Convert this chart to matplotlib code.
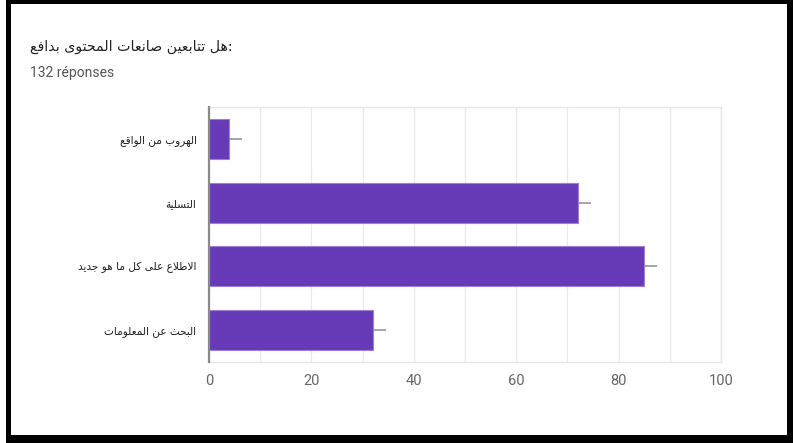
import matplotlib
matplotlib.use("Agg")
import matplotlib.pyplot as plt
from matplotlib.patches import Rectangle

# ---- data -------------------------------------------------------------
title = "هل تتابعين صانعات المحتوى بدافع:"
subtitle = "132 réponses"
categories = [
    "الهروب من الواقع",
    "التسلية",
    "الاطلاع على كل ما هو جديد",
    "البحث عن المعلومات",
]
counts = [4, 72, 85, 32]
err_plus = [2.4, 2.6, 2.5, 2.6]
x_ticks = [0, 20, 40, 60, 80, 100]

# ---- minimal Arabic shaping (presentation forms) + visual reordering ---
# letter: (isolated, final, initial, medial); None for right-joining letters
FORMS = {
    "\u0621": (0xFE80, None, None, None),
    "\u0622": (0xFE81, 0xFE82, None, None),
    "\u0623": (0xFE83, 0xFE84, None, None),
    "\u0625": (0xFE87, 0xFE88, None, None),
    "\u0627": (0xFE8D, 0xFE8E, None, None),
    "\u0628": (0xFE8F, 0xFE90, 0xFE91, 0xFE92),
    "\u0629": (0xFE93, 0xFE94, None, None),
    "\u062A": (0xFE95, 0xFE96, 0xFE97, 0xFE98),
    "\u062B": (0xFE99, 0xFE9A, 0xFE9B, 0xFE9C),
    "\u062C": (0xFE9D, 0xFE9E, 0xFE9F, 0xFEA0),
    "\u062D": (0xFEA1, 0xFEA2, 0xFEA3, 0xFEA4),
    "\u062E": (0xFEA5, 0xFEA6, 0xFEA7, 0xFEA8),
    "\u062F": (0xFEA9, 0xFEAA, None, None),
    "\u0630": (0xFEAB, 0xFEAC, None, None),
    "\u0631": (0xFEAD, 0xFEAE, None, None),
    "\u0632": (0xFEAF, 0xFEB0, None, None),
    "\u0633": (0xFEB1, 0xFEB2, 0xFEB3, 0xFEB4),
    "\u0634": (0xFEB5, 0xFEB6, 0xFEB7, 0xFEB8),
    "\u0635": (0xFEB9, 0xFEBA, 0xFEBB, 0xFEBC),
    "\u0636": (0xFEBD, 0xFEBE, 0xFEBF, 0xFEC0),
    "\u0637": (0xFEC1, 0xFEC2, 0xFEC3, 0xFEC4),
    "\u0638": (0xFEC5, 0xFEC6, 0xFEC7, 0xFEC8),
    "\u0639": (0xFEC9, 0xFECA, 0xFECB, 0xFECC),
    "\u063A": (0xFECD, 0xFECE, 0xFECF, 0xFED0),
    "\u0641": (0xFED1, 0xFED2, 0xFED3, 0xFED4),
    "\u0642": (0xFED5, 0xFED6, 0xFED7, 0xFED8),
    "\u0643": (0xFED9, 0xFEDA, 0xFEDB, 0xFEDC),
    "\u0644": (0xFEDD, 0xFEDE, 0xFEDF, 0xFEE0),
    "\u0645": (0xFEE1, 0xFEE2, 0xFEE3, 0xFEE4),
    "\u0646": (0xFEE5, 0xFEE6, 0xFEE7, 0xFEE8),
    "\u0647": (0xFEE9, 0xFEEA, 0xFEEB, 0xFEEC),
    "\u0648": (0xFEED, 0xFEEE, None, None),
    "\u0649": (0xFEEF, 0xFEF0, None, None),
    "\u064A": (0xFEF1, 0xFEF2, 0xFEF3, 0xFEF4),
}
LAM_ALEF = {"\u0627": (0xFEFB, 0xFEFC), "\u0623": (0xFEF7, 0xFEF8),
            "\u0625": (0xFEF9, 0xFEFA), "\u0622": (0xFEF5, 0xFEF6)}


def joins_forward(ch):
    f = FORMS.get(ch)
    return f is not None and f[2] is not None


def shape_arabic(text):
    out = []
    i = 0
    n = len(text)
    while i < n:
        ch = text[i]
        if ch not in FORMS:
            out.append(ch)
            i += 1
            continue
        prev = text[i - 1] if i > 0 else ""
        joined_prev = joins_forward(prev)
        # lam-alef ligature
        if ch == "\u0644" and i + 1 < n and text[i + 1] in LAM_ALEF:
            iso, fin = LAM_ALEF[text[i + 1]]
            out.append(chr(fin if joined_prev else iso))
            i += 2
            continue
        nxt = text[i + 1] if i + 1 < n else ""
        iso, fin, ini, med = FORMS[ch]
        joined_next = ini is not None and nxt in FORMS
        if joined_prev and joined_next:
            code = med
        elif joined_prev:
            code = fin
        elif joined_next:
            code = ini
        else:
            code = iso
        out.append(chr(code))
        i += 1
    return "".join(out)


def visual(text):
    # trailing punctuation stays on the right in a left-to-right paragraph
    tail = ""
    while text and text[-1] in ":.":
        tail = text[-1] + tail
        text = text[:-1]
    return shape_arabic(text)[::-1] + tail


# ---- figure -----------------------------------------------------------
W, H = 793, 443
fig = plt.figure(figsize=(W / 100, H / 100), dpi=100)
fig.patch.set_facecolor("white")

ax = fig.add_axes([209 / W, 1 - 361.7 / H, (721 - 209) / W, (361.7 - 107.3) / H])

purple = "#673ab7"
ypos = list(range(len(categories)))
ax.barh(ypos, counts, height=0.63, color=purple, edgecolor="#9c7fd6",
        linewidth=0.8, zorder=3)
ax.errorbar(counts, ypos, xerr=[[0] * len(counts), err_plus], fmt="none",
            ecolor="#9e9e9e", elinewidth=1.3, capsize=0, zorder=2)

ax.set_xlim(0, 100)
ax.set_ylim(len(categories) - 0.5, -0.5)
ax.set_xticks(x_ticks)
ax.set_xticks(range(10, 100, 20), minor=True)
ax.set_xticklabels([str(t) for t in x_ticks], fontsize=10.5, color="#666666",
                   family="Roboto")
ax.set_yticks(ypos)
ax.set_yticklabels([visual(c) for c in categories], fontsize=7.6,
                   color="#222222", family="DejaVu Sans")
ax.tick_params(axis="both", which="both", length=0)
ax.tick_params(axis="x", pad=9)
ax.tick_params(axis="y", pad=9)
ax.grid(axis="x", which="both", color="#ebebeb", linewidth=1, zorder=0)
ax.set_axisbelow(True)
for side in ("top", "right", "bottom"):
    ax.spines[side].set_color("#e6e6e6")
    ax.spines[side].set_linewidth(1)
ax.spines["left"].set_color("#8a8a8a")
ax.spines["left"].set_linewidth(1.6)
ax.spines["left"].set_zorder(4)

fig.text(30 / W, 1 - 47 / H, visual(title), fontsize=10.2, color="#222222",
         family="DejaVu Sans", ha="left", va="center")
fig.text(30 / W, 1 - 73 / H, subtitle, fontsize=10, color="#555555",
         family="Roboto", ha="left", va="center")

# black frame around the card
def frame(x0, y0, x1, y1):
    fig.patches.append(Rectangle((x0 / W, 1 - y1 / H), (x1 - x0) / W,
                                 (y1 - y0) / H, transform=fig.transFigure,
                                 facecolor="black", edgecolor="none",
                                 zorder=10))

frame(6, 0, W, 3.5)
frame(6, 435, W, H)
frame(6, 0, 11, H)
frame(787, 0, W, H)

fig.savefig("out.png", dpi=100)
